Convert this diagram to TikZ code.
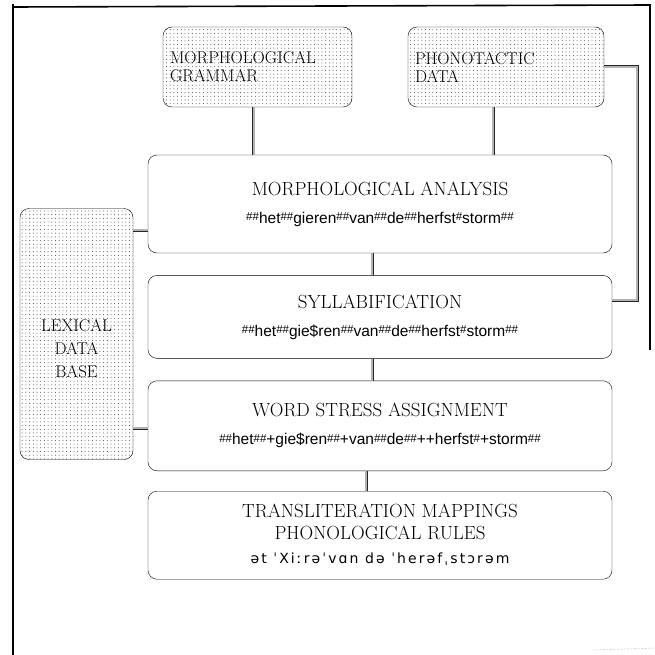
\documentclass[tikz,border=0pt]{standalone}
\usepackage{fontspec}
\usepackage{tikz}
\usetikzlibrary{calc,positioning,patterns}
\newfontfamily\strfont{Liberation Sans}
\newfontfamily\ipafont[LetterSpace=15]{DejaVu Sans}
\newcommand{\hs}{\raisebox{.3ex}{\fontsize{11.5}{11}\selectfont\#}}
\pgfdeclarepatternformonly{sparsedots}{\pgfqpoint{-1pt}{-1pt}}{\pgfqpoint{1pt}{1pt}}{\pgfqpoint{3.7pt}{3.7pt}}{\pgfpathcircle{\pgfqpoint{0pt}{0pt}}{.5pt}\pgfusepath{fill}}
\tikzstyle{stage} = [draw=black,rounded corners=9pt,minimum width=464pt,inner sep=0,align=center,font=\fontsize{19}{22}\selectfont]
\tikzstyle{source} = [draw=black,rounded corners=9pt,inner sep=0,pattern=sparsedots,pattern color=black!75,font=\fontsize{17}{18}\selectfont]
\tikzstyle{link} = [draw=black!85,line width=.5pt,double=black!30,double distance=2pt]
\tikzstyle{frame} = [draw=black,line width=1.6pt]
\tikzset{semithick, x=1pt, y=1pt}

\begin{document}
\begin{tikzpicture}
\useasboundingbox (0,0) rectangle (655,-655);

% page frame
\draw[frame] (13,-4) -- (13,-655);
\draw[frame] (13,-7) -- (651,-5);
\draw[frame] (650,-5) -- (650,-350);
\draw[black!50,densely dotted] (592,-650) -- (655,-648);

% sources
\node[source, minimum width=189pt, minimum height=80pt, text width=175pt, align=left] (gram) at (257.5,-67) {MORPHOLOGICAL\\GRAMMAR};
\node[source, minimum width=196pt, minimum height=80pt, text width=182pt, align=left] (phon) at (506,-67) {PHONOTACTIC\\DATA};
\node[source, minimum width=113pt, minimum height=251pt,
  label={[yshift=-15pt, align=center, font=\fontsize{17}{23}\selectfont]center:LEXICAL\\DATA\\BASE}] (lex) at (76.5,-334) {};

% stages
\node[stage, minimum height=98pt] (anal) at (380,-204)
  {MORPHOLOGICAL ANALYSIS\\[6pt]{\strfont\fontsize{15.5}{16}\selectfont\hs\hs het\hs\hs gieren\hs\hs van\hs\hs de\hs\hs herfst\hs storm\hs\hs}};
\node[stage, minimum height=83pt, below=22pt of anal] (syll)
  {SYLLABIFICATION\\[6pt]{\strfont\fontsize{15.5}{16}\selectfont\hs\hs het\hs\hs gie\$ren\hs\hs van\hs\hs de\hs\hs herfst\hs storm\hs\hs}};
\node[stage, minimum height=90pt, below=22pt of syll] (stress)
  {WORD STRESS ASSIGNMENT\\[6pt]{\strfont\fontsize{15.5}{16}\selectfont\hs\hs het\hs\hs+gie\$ren\hs\hs+van\hs\hs de\hs\hs++herfst\hs+storm\hs\hs}};
\node[stage, minimum height=88pt, below=20pt of stress] (trans)
  {TRANSLITERATION MAPPINGS\\PHONOLOGICAL RULES\\[2pt]{\ipafont\fontsize{14}{15}\selectfont ət ˈXiːrəˈvɑn də ˈherəfˌstɔrəm}};

\coordinate (lexa) at (0,-230);
\coordinate (lexb) at (0,-428);
\coordinate (bus) at (637,-300);

\draw[link] ([xshift=-4pt]gram.south) -- ([xshift=-4pt]gram.south |- anal.north);
\draw[link] ([xshift=-13pt]phon.south) -- ([xshift=-13pt]phon.south |- anal.north);
\draw[link] (phon.east) -- (phon.east -| bus) -- (bus) -- (bus -| syll.east);
\draw[link] ([xshift=-8pt]anal.south) -- ([xshift=-8pt]syll.north);
\draw[link] ([xshift=-8pt]syll.south) -- ([xshift=-8pt]stress.north);
\draw[link] ([xshift=-14pt]stress.south) -- ([xshift=-14pt]trans.north);
\draw[link] (lexa -| lex.east) -- (lexa -| anal.west);
\draw[link] (lexb -| lex.east) -- (lexb -| stress.west);
\end{tikzpicture}
\end{document}
